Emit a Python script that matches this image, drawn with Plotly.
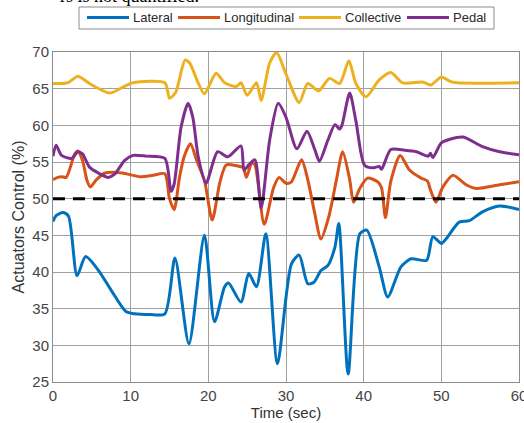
import plotly.graph_objects as go

# Actuator control histories (percent) versus time (sec)
lateral_t = [0, 0.4, 1.3, 2.0, 3.1, 4.2, 5.8, 7.5, 9.4, 10.5, 12.5, 14.4, 15.7, 17.5, 19.5,
             20.8, 22.1, 22.6, 24.2, 25.2, 26.2, 27.4, 28.9, 30.7, 31.7, 32.8, 33.6, 34.5,
             35.4, 36.3, 36.8, 38.0, 39.5, 40.4, 42.0, 43.1, 44.8, 46.1, 48.1, 48.9, 50.0,
             50.6, 52.3, 53.6, 55.3, 57.5, 60]
lateral_v = [46.9, 47.7, 48.1, 47.6, 39.5, 42.1, 40.3, 37.5, 34.6, 34.3, 34.2, 34.3, 41.9, 30.2,
             45.0, 33.2, 38.0, 38.5, 35.9, 39.8, 38.0, 45.2, 27.5, 41.1, 42.3, 38.4, 38.6, 40.2,
             40.9, 43.4, 46.6, 26.1, 45.2, 45.7, 40.7, 36.6, 40.7, 41.8, 41.6, 44.8, 43.9,
             44.5, 46.8, 47.0, 48.2, 49.0, 48.5]

longitudinal_t = [0, 0.6, 1.1, 1.7, 2.8, 3.2, 3.8, 4.4, 4.8, 5.6, 6.7, 8.0, 9.4, 11.2, 12.9,
                  14.4, 15.0, 15.6, 16.3, 16.9, 17.7, 18.5, 19.5, 20.5, 21.5, 22.3, 23.6, 24.5,
                  24.9, 25.6, 26.0, 27.2, 28.4, 29.1, 30.0, 30.7, 32.0, 32.8, 33.7, 34.5, 35.5,
                  36.5, 37.3, 38.2, 38.7, 39.5, 40.5, 41.8, 42.3, 42.8, 43.5, 44.7, 45.9, 47.4,
                  48.2, 48.6, 49.3, 50.2, 51.5, 53.2, 54.5, 57.5, 60]
longitudinal_v = [52.6, 52.9, 53.0, 52.9, 56.1, 56.5, 55.2, 52.4, 51.6, 52.6, 53.5, 53.6, 53.4,
                  53.0, 53.2, 53.4, 50.0, 48.5, 53.0, 55.8, 57.5, 55.2, 52.5, 47.1, 52.3, 54.6,
                  54.5, 54.2, 52.9, 54.9, 54.6, 46.5, 51.5, 52.9, 52.1, 52.3, 55.3, 52.6, 48.0,
                  44.5, 47.5, 52.6, 56.4, 52.6, 49.5, 51.4, 52.8, 52.3, 51.5, 47.4, 52.4, 55.9,
                  53.9, 52.8, 52.4, 51.2, 49.5, 51.6, 53.2, 51.9, 51.4, 51.9, 52.3]

collective_t = [0, 1.9, 3.2, 4.7, 7.3, 9.0, 10.3, 14.4, 15.0, 15.8, 17.0, 17.6, 18.6, 19.5,
                21.0, 22.1, 23.6, 24.2, 25.0, 26.2, 26.8, 27.9, 28.8, 30.0, 31.7, 32.8, 34.2,
                35.6, 36.9, 38.1, 39.0, 40.3, 42.0, 43.5, 45.0, 47.6, 48.3, 48.7, 50.0, 51.1,
                52.0, 60]
collective_v = [65.7, 65.8, 66.7, 65.7, 64.4, 65.2, 65.8, 65.8, 63.7, 64.5, 68.9, 68.5, 66.0,
                64.3, 67.1, 65.8, 65.3, 65.8, 64.1, 65.8, 63.4, 68.5, 69.9, 67.0, 63.1, 65.7,
                64.7, 66.4, 65.7, 68.8, 65.7, 63.9, 66.2, 67.2, 65.8, 65.9, 65.6, 65.5, 66.6,
                66.0, 65.8, 65.8]

pedal_t = [0, 0.4, 1.1, 2.4, 3.2, 3.8, 4.7, 6.0, 7.1, 8.0, 9.2, 10.3, 12.0, 14.4, 15.2, 15.6,
           16.5, 17.4, 18.0, 18.7, 19.7, 21.2, 22.5, 24.2, 24.6, 25.2, 26.0, 26.8, 27.9, 29.0,
           30.0, 31.4, 32.7, 33.7, 34.3, 35.4, 36.3, 36.9, 37.2, 38.2, 39.0, 40.1, 41.2, 42.0,
           42.3, 43.5, 45.3, 46.8, 48.3, 48.6, 48.9, 50.0, 51.1, 52.8, 55.3, 57.5, 60]
pedal_v = [55.8, 57.3, 55.9, 55.5, 56.4, 56.1, 54.3, 53.4, 52.9, 53.4, 55.2, 55.9, 55.8, 55.5,
           51.0, 52.0, 59.8, 63.0, 61.1, 55.7, 52.1, 56.4, 55.7, 57.2, 53.9, 54.6, 55.3, 48.7,
           58.0, 63.0, 61.1, 56.8, 59.2, 56.7, 55.1, 58.0, 60.1, 59.5, 60.0, 64.4, 60.6, 54.6,
           54.2, 54.4, 54.0, 56.7, 56.6, 56.4, 55.8, 56.2, 55.6, 57.6, 58.1, 58.4, 57.1, 56.4,
           56.0]

threshold = 50
x_ticks = [0, 10, 20, 30, 40, 50, 60]
y_ticks = [25, 30, 35, 40, 45, 50, 55, 60, 65, 70]
series_names = ["Lateral", "Longitudinal", "Collective", "Pedal"]
series_colors = ["#0072BD", "#D95319", "#EDB120", "#7E2F8E"]

W, H = 524, 423
M_L, M_R, M_T, M_B = 53, 5, 52, 41
PW, PH = W - M_L - M_R, H - M_T - M_B


def px_x(px):
    """Pixel column -> paper x."""
    return (px - M_L) / PW


def px_y(py):
    """Pixel row -> paper y."""
    return (H - M_B - py) / PH


fig = go.Figure()
for name, t, v, color in zip(series_names,
                             [lateral_t, longitudinal_t, collective_t, pedal_t],
                             [lateral_v, longitudinal_v, collective_v, pedal_v],
                             series_colors):
    fig.add_trace(go.Scatter(
        x=t, y=v, mode="lines", name=name, showlegend=False,
        line=dict(color=color, width=3, shape="spline", smoothing=0.7),
    ))

# 50 % reference level
fig.add_trace(go.Scatter(
    x=[x_ticks[0], x_ticks[-1]], y=[threshold, threshold], mode="lines",
    line=dict(color="black", width=3, dash="12px,8px"), showlegend=False,
))

axis_common = dict(
    showgrid=True, gridcolor="#a0a0a0", gridwidth=1,
    showline=True, linecolor="#8c8c8c", linewidth=1, mirror=True,
    zeroline=False, ticks="", automargin=False, ticklabeloverflow="allow",
    tickfont=dict(family="Liberation Sans, Arial", size=15, color="#444444"),
)

# Legend box drawn in the top margin: frame, line samples and labels
legend_box = (79, 7, 494, 29)
sample_starts = [87, 178, 299, 407]
sample_len = 42
legend_mid = 17.5

shapes = [dict(type="rect", xref="paper", yref="paper",
               x0=px_x(legend_box[0]), x1=px_x(legend_box[2]),
               y0=px_y(legend_box[3]), y1=px_y(legend_box[1]),
               line=dict(color="#8c8c8c", width=1), fillcolor="white", layer="above")]
annotations = []
for name, color, x0 in zip(series_names, series_colors, sample_starts):
    shapes.append(dict(type="line", xref="paper", yref="paper",
                       x0=px_x(x0), x1=px_x(x0 + sample_len),
                       y0=px_y(legend_mid), y1=px_y(legend_mid),
                       line=dict(color=color, width=3), layer="above"))
    annotations.append(dict(text=name, xref="paper", yref="paper",
                            x=px_x(x0 + sample_len + 2), y=px_y(legend_mid),
                            xanchor="left", yanchor="middle", showarrow=False,
                            font=dict(family="Liberation Sans, Arial", size=13,
                                      color="#2a2a2a")))

# Tail of the preceding caption line, cut by the top edge
annotations.append(dict(
    text="rs is not quantified.", xref="paper", yref="paper",
    x=px_x(58), y=px_y(-4), xanchor="left", yanchor="middle",
    showarrow=False,
    font=dict(family="Liberation Serif, Times New Roman", size=18, color="black"),
))

fig.update_layout(
    width=W, height=H,
    margin=dict(l=M_L, r=M_R, t=M_T, b=M_B),
    paper_bgcolor="white", plot_bgcolor="white",
    font=dict(family="Liberation Sans, Arial", color="#333333"),
    showlegend=False,
    xaxis=dict(range=[0, 60], tickvals=x_ticks,
               title=dict(text="Time (sec)", standoff=4,
                          font=dict(size=15, color="#333333")),
               **axis_common),
    yaxis=dict(range=[25, 70], tickvals=y_ticks,
               title=dict(text="Actuators Control (%)", standoff=3,
                          font=dict(size=16, color="#333333")),
               **axis_common),
    shapes=shapes,
    annotations=annotations,
)

fig.write_html("out.html")
